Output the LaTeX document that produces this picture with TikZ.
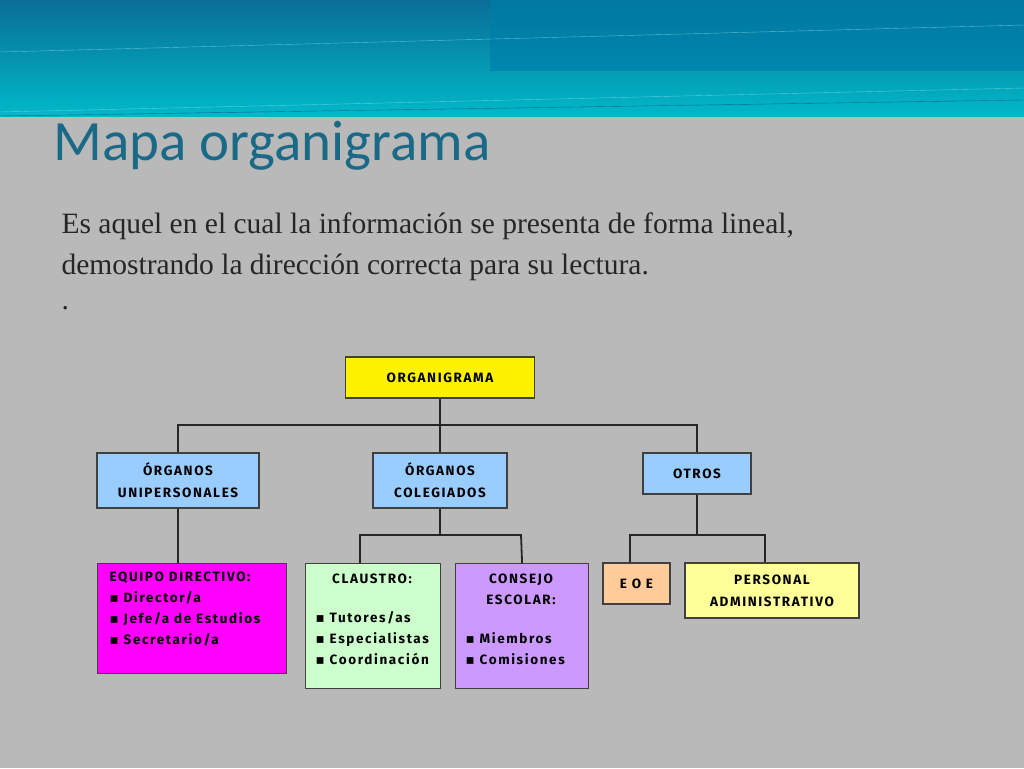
\documentclass[tikz,border=0pt]{standalone}
\usepackage{fontspec}
\setmainfont{Liberation Serif}
\newfontfamily\titlefont{Carlito}
\newfontfamily\boxfontx{Fira Sans}[LetterSpace=12]
\newfontfamily\symfont{DejaVu Sans}
\newcommand\boxfont{\boxfontx\bfseries}
\newcommand\bul{{\symfont ▪}\hspace{5pt}}
\definecolor{hdtop}{RGB}{10,110,150}
\definecolor{hdbot}{RGB}{0,185,200}
\definecolor{hdrt}{RGB}{0,120,160}
\definecolor{hdrb}{RGB}{0,135,175}
\definecolor{hdline}{RGB}{0,100,150}
\definecolor{titc}{RGB}{25,105,135}
\definecolor{lblue}{RGB}{153,204,255}
\definecolor{lgreen}{RGB}{204,255,204}
\definecolor{lviolet}{RGB}{204,153,255}
\definecolor{lorange}{RGB}{255,204,153}
\definecolor{lyellow}{RGB}{255,255,153}
\definecolor{mag}{RGB}{255,0,255}
\begin{document}
\begin{tikzpicture}[x=1pt,y=-1pt,
  bx/.style={draw=black!75,line width=1.2pt,font=\boxfont\fontsize{13.5}{22}\selectfont,inner sep=0pt},
  ln/.style={draw=black!85,line width=1.8pt},
  lst/.style={anchor=north west,align=left,font=\boxfont\fontsize{13.5}{21}\selectfont}]
\useasboundingbox (0,0) rectangle (1024,768);
\fill[gray!55] (0,0) rectangle (1024,768);
\shade[top color=hdtop,bottom color=hdbot] (0,0) rectangle (1024,116);
\shade[top color=hdrt,bottom color=hdrb] (490,0) rectangle (1024,70);
\draw[white!60!cyan,opacity=0.6] (0,52) -- (1024,25);
\draw[white!60!cyan,opacity=0.6] (0,112) -- (1024,88);
\draw[hdline] (0,116) -- (1024,100);
\node[anchor=west,text=titc,font=\titlefont\fontsize{57}{60}\selectfont] (title) at (50,146) {Mapa organigrama};
\node[anchor=west,text=black!85,font=\fontsize{29.5}{30}\selectfont] (l1) at (58,226) {Es aquel en el cual la información se presenta de forma lineal,};
\node[anchor=west,text=black!85,font=\fontsize{29.5}{30}\selectfont] (l2) at (58,267) {demostrando la dirección correcta para su lectura.};
\node[anchor=west,text=black!85,font=\fontsize{29.5}{30}\selectfont] (l3) at (58,308) {.};
% boxes
\node[bx,fill=yellow,minimum width=189pt,minimum height=41pt] (org) at (440,377.5) {ORGANIGRAMA};
\node[bx,fill=lblue,minimum width=162pt,minimum height=55pt,align=center] (uni) at (178,480.5) {ÓRGANOS\\UNIPERSONALES};
\node[bx,fill=lblue,minimum width=134pt,minimum height=55pt,align=center] (col) at (440,480.5) {ÓRGANOS\\COLEGIADOS};
\node[bx,fill=lblue,minimum width=108pt,minimum height=41pt] (otr) at (697,473.5) {OTROS};
\node[bx,fill=mag,minimum width=189pt,minimum height=110pt,anchor=north west] (equ) at (97,563) {};
\node[lst] (equt) at (106,568) {EQUIPO DIRECTIVO:\\\bul Director/a\\\bul Jefe/a de Estudios\\\bul Secretario/a};
\node[bx,fill=lgreen,minimum width=135pt,minimum height=125pt,anchor=north west] (cla) at (305,563) {};
\node[lst,anchor=north] (clat) at (372,570) {CLAUSTRO:};
\node[lst] (clal) at (312,608) {\bul Tutores/as\\\bul Especialistas\\\bul Coordinación};
\node[bx,fill=lviolet,minimum width=133pt,minimum height=125pt,anchor=north west] (con) at (455,563) {};
\node[lst,anchor=north,align=center] (cont) at (521,570) {CONSEJO\\ESCOLAR:};
\node[lst] (conl) at (462,629) {\bul Miembros\\\bul Comisiones};
\node[bx,fill=lorange,minimum width=67pt,minimum height=41pt] (eoe) at (636.5,583.5) {E O E};
\node[bx,fill=lyellow,minimum width=174pt,minimum height=55pt,align=center] (per) at (772,590.5) {PERSONAL\\ADMINISTRATIVO};
% connectors
\draw[ln] (uni.north) -- (178,425) -- (697,425) -- (otr.north);
\draw[ln] (org.south) -- (col.north);
\draw[ln] (uni.south) -- (equ.north west -| uni.south);
\coordinate (h2) at (440,535);
\draw[ln] (col.south) -- (h2);
\draw[ln] (cla.north -| 360,0) -- (360,535) -- (521,535) -- (con.north);
\coordinate (h3) at (697,535);
\draw[ln] (otr.south) -- (h3);
\draw[ln] (eoe.north -| 630,0) -- (630,535) -- (765,535) -- (per.north -| 765,0);
\end{tikzpicture}
\end{document}
